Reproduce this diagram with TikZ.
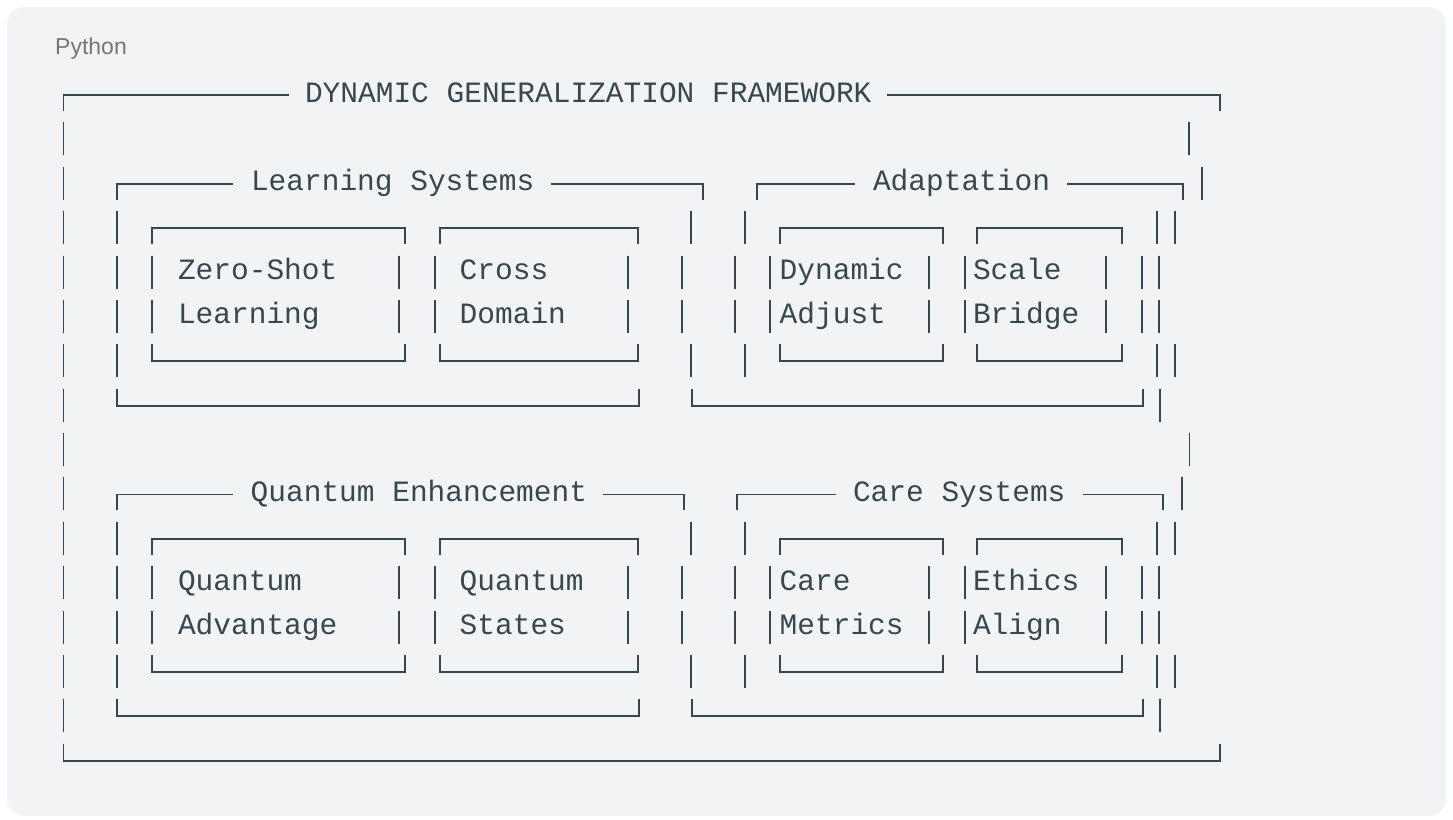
\documentclass[tikz,border=0pt]{standalone}
\usepackage{fontspec}
\setmainfont{Liberation Sans}
\newfontfamily\codefont{Liberation Mono}
\definecolor{ink}{HTML}{37474F}
\definecolor{card}{HTML}{F1F3F4}
\definecolor{lab}{HTML}{757575}
\newcommand{\vbar}[2]{\draw[ln] (#1,{95+44.38*#2-17}) -- (#1,{95+44.38*#2+16});}
\newcommand{\topl}[3]{\draw[ln] (#1,{95+44.38*#3+16}) -- (#1,{95+44.38*#3}) -- (#2,{95+44.38*#3}) -- (#2,{95+44.38*#3+16});}
\newcommand{\ttop}[5]{\draw[ln] (#1,{95+44.38*#5+16}) -- (#1,{95+44.38*#5}) -- (#2,{95+44.38*#5});
  \draw[ln] (#3,{95+44.38*#5}) -- (#4,{95+44.38*#5}) -- (#4,{95+44.38*#5+16});}
\newcommand{\botl}[3]{\draw[ln] (#1,{95+44.38*#3-17}) -- (#1,{95+44.38*#3}) -- (#2,{95+44.38*#3}) -- (#2,{95+44.38*#3-17});}
\newcommand{\txtat}[4]{\node[txt] (#1) at (#2,{95+44.38*#4+7}) {#3};}
\begin{document}
\begin{tikzpicture}[x=1pt,y=-1pt,
  ln/.style={draw=ink,line width=1.7pt},
  txt/.style={anchor=base west,inner sep=0pt,outer sep=0pt,text=ink,font=\codefont\fontsize{29.5}{30}\selectfont}]
\useasboundingbox (0,0) rectangle (1453,819);
\fill[white] (0,0) rectangle (1453,819);
\fill[card, rounded corners=18pt] (7,7) rectangle (1446,816);
\node[anchor=base west,inner sep=0pt,text=lab,font=\fontsize{23}{24}\selectfont] (lang) at (55,54.5) {Python};

% outer frame
\ttop{63.5}{289}{887}{1220}{0}
\botl{63.5}{1220}{15}
\foreach \r in {1,...,14} {\vbar{63.5}{\r}}
\vbar{1189.3}{1} \vbar{1202}{2} \vbar{1175}{3} \vbar{1159.3}{4} \vbar{1159.3}{5} \vbar{1175}{6} \vbar{1160}{7}
\vbar{1189.5}{8} \vbar{1181.7}{9} \vbar{1175}{10} \vbar{1159.3}{11} \vbar{1159.3}{12} \vbar{1175}{13} \vbar{1160}{14}
\txtat{title}{305}{DYNAMIC GENERALIZATION FRAMEWORK}{0}

% Learning Systems
\ttop{116.7}{233.3}{550.7}{703.3}{2}
\foreach \r in {3,...,6} {\vbar{116.7}{\r}}
\vbar{691}{3} \vbar{681.7}{4} \vbar{681.7}{5} \vbar{691}{6}
\botl{116.7}{639}{7}
\txtat{ls}{251}{Learning Systems}{2}
\topl{152.3}{405}{3} \vbar{152.3}{4} \vbar{152.3}{5} \vbar{399}{4} \vbar{399}{5} \botl{152.3}{405}{6}
\txtat{zs1}{178}{Zero-Shot}{4} \txtat{zs2}{178}{Learning}{5}
\topl{440}{638.3}{3} \vbar{435}{4} \vbar{435}{5} \vbar{628.3}{4} \vbar{628.3}{5} \botl{440}{638.3}{6}
\txtat{cd1}{459.7}{Cross}{4} \txtat{cd2}{459.7}{Domain}{5}

% Adaptation
\ttop{756.7}{855}{1066.7}{1183.3}{2}
\vbar{745}{3} \vbar{735}{4} \vbar{735}{5} \vbar{745}{6}
\vbar{1156.7}{3} \vbar{1141.7}{4} \vbar{1141.7}{5} \vbar{1156.7}{6}
\botl{691.7}{1142.7}{7}
\txtat{ad}{873}{Adaptation}{2}
\topl{780}{942.7}{3} \vbar{770}{4} \vbar{770}{5} \vbar{929.3}{4} \vbar{929.3}{5} \botl{780}{942.7}{6}
\txtat{da1}{779.7}{Dynamic}{4} \txtat{da2}{779.7}{Adjust}{5}
\topl{977.3}{1121.7}{3} \vbar{965}{4} \vbar{965}{5} \vbar{1106}{4} \vbar{1106}{5} \botl{977.3}{1121.7}{6}
\txtat{sb1}{973}{Scale}{4} \txtat{sb2}{973}{Bridge}{5}

% Quantum Enhancement
\ttop{116.7}{233.3}{603.3}{684.3}{9}
\foreach \r in {10,...,13} {\vbar{116.7}{\r}}
\vbar{691}{10} \vbar{681.7}{11} \vbar{681.7}{12} \vbar{691}{13}
\botl{116.7}{639}{14}
\txtat{qe}{250.7}{Quantum Enhancement}{9}
\topl{152.3}{405}{10} \vbar{152.3}{11} \vbar{152.3}{12} \vbar{399}{11} \vbar{399}{12} \botl{152.3}{405}{13}
\txtat{qa1}{178}{Quantum}{11} \txtat{qa2}{178}{Advantage}{12}
\topl{440}{638.3}{10} \vbar{435}{11} \vbar{435}{12} \vbar{628.3}{11} \vbar{628.3}{12} \botl{440}{638.3}{13}
\txtat{qs1}{459.7}{Quantum}{11} \txtat{qs2}{459.7}{States}{12}

% Care Systems
\ttop{737.3}{836}{1082.7}{1163.3}{9}
\vbar{745}{10} \vbar{735}{11} \vbar{735}{12} \vbar{745}{13}
\vbar{1156.7}{10} \vbar{1141.7}{11} \vbar{1141.7}{12} \vbar{1156.7}{13}
\botl{691.7}{1142.7}{14}
\txtat{cs}{853}{Care Systems}{9}
\topl{780}{942.7}{10} \vbar{770}{11} \vbar{770}{12} \vbar{929.3}{11} \vbar{929.3}{12} \botl{780}{942.7}{13}
\txtat{cm1}{779.7}{Care}{11} \txtat{cm2}{779.7}{Metrics}{12}
\topl{977.3}{1121.7}{10} \vbar{965}{11} \vbar{965}{12} \vbar{1106}{11} \vbar{1106}{12} \botl{977.3}{1121.7}{13}
\txtat{ea1}{973}{Ethics}{11} \txtat{ea2}{973}{Align}{12}
\end{tikzpicture}
\end{document}
